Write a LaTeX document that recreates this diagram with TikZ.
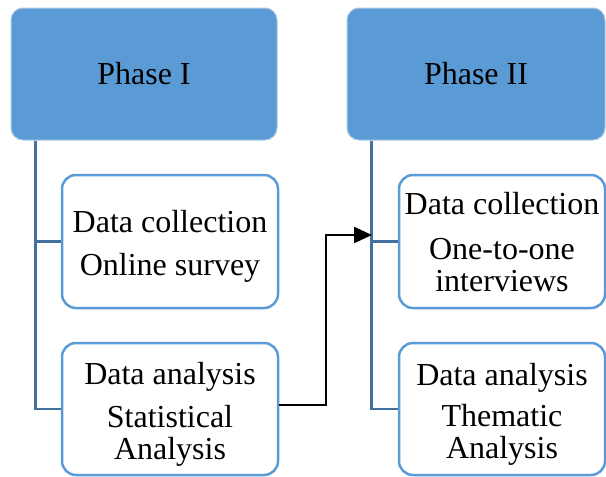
\documentclass[tikz,border=0pt]{standalone}
\usepackage{fontspec}
\setmainfont{Liberation Serif}
\usetikzlibrary{arrows.meta}
\definecolor{phasefill}{HTML}{5B9BD5}
\definecolor{phaseedge}{HTML}{A7C8E8}
\definecolor{itemedge}{HTML}{5B9BD5}
\definecolor{treeline}{HTML}{41719C}
\tikzset{
  x=1pt, y=1pt,
  phasebox/.style={draw=phaseedge, line width=1pt, fill=phasefill,
    rounded corners=12pt, inner sep=0pt},
  itembox/.style={draw=itemedge, line width=2.5pt, fill=white,
    rounded corners=14pt, inner sep=0pt},
  treelink/.style={draw=treeline, line width=2.8pt},
  flowarrow/.style={draw=black, line width=2.2pt,
    -{Triangle[length=18pt,width=16pt]}},
  lbl/.style={font=\fontsize{32}{32}\selectfont, align=center, inner sep=0pt}
}
\begin{document}
\begin{tikzpicture}
\useasboundingbox (0,0) rectangle (606,-477);

% phase headers
\node[phasebox, lbl, minimum width=266pt, minimum height=132pt] (p1) at (144,-74) {Phase I};
\node[phasebox, lbl, minimum width=258pt, minimum height=132pt] (p2) at (476,-74) {Phase II};

% activity boxes
\node[itembox, minimum width=216pt, minimum height=133pt] (c11) at (170,-241.5) {};
\node[itembox, minimum width=216pt, minimum height=132pt] (c12) at (170,-409) {};
\node[itembox, minimum width=206pt, minimum height=133pt] (c21) at (502,-241.5) {};
\node[itembox, minimum width=206pt, minimum height=132pt] (c22) at (502,-409) {};

% activity texts
\node[lbl] (t11) at ([yshift=-4.5pt]c11.center) {Data collection\\[11pt]Online survey};
\node[lbl] (t12) at ([yshift=-5pt]c12.center) {Data analysis\\[11pt]Statistical\\Analysis};
\node[lbl] (t21) at ([yshift=-0.5pt]c21.center) {Data collection\\[13pt]One-to-one\\interviews};
\node[lbl] (t22) at ([yshift=-5pt]c22.center) {Data analysis\\[9pt]Thematic\\Analysis};

% tree connectors
\coordinate (r1) at ([xshift=25pt]p1.south west);
\coordinate (r2) at ([xshift=25pt]p2.south west);
\draw[treelink] (r1) |- (c11.west);
\draw[treelink] (r1) |- (c12.west);
\draw[treelink] (r2) |- (c21.west);
\draw[treelink] (r2) |- (c22.west);

% hand-over from phase I analysis to phase II
\coordinate (entry) at (372,-235);
\draw[flowarrow] ([yshift=4pt]c12.east) -- ++(47,0) |- (entry);
\end{tikzpicture}
\end{document}
